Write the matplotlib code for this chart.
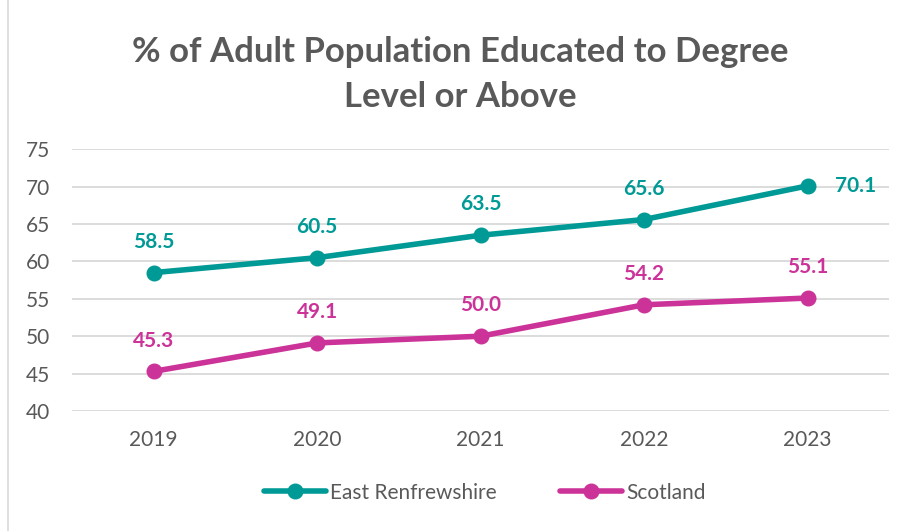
import numpy as np
from matplotlib import pyplot as plt
from matplotlib.patches import Rectangle

years = ['2019', '2020', '2021', '2022', '2023']
east_renfrewshire = [58.5, 60.5, 63.5, 65.6, 70.1]
scotland = [45.3, 49.1, 50.0, 54.2, 55.1]

teal = '#009A96'
pink = '#CC3399'
grey = '#595959'

plt.rcParams['font.family'] = ['Lato', 'DejaVu Sans']

fig = plt.figure(figsize=(9.06, 5.31), dpi=100)
ax = fig.add_axes([0.0795, 0.226, 0.902, 0.493])

x = np.arange(len(years))
ax.plot(x, east_renfrewshire, color=teal, lw=4, marker='o', ms=10.5,
        label='East Renfrewshire', solid_capstyle='round')
ax.plot(x, scotland, color=pink, lw=4, marker='o', ms=10.5,
        label='Scotland', solid_capstyle='round')

for i, v in enumerate(east_renfrewshire):
    if i == len(years) - 1:
        ax.annotate(f'{v:.1f}', (i, v), xytext=(20, 0), textcoords='offset points',
                    ha='left', va='center', color=teal, fontsize=15, fontweight='bold')
    else:
        ax.annotate(f'{v:.1f}', (i, v), xytext=(0, 15), textcoords='offset points',
                    ha='center', va='bottom', color=teal, fontsize=15, fontweight='bold')
for i, v in enumerate(scotland):
    ax.annotate(f'{v:.1f}', (i, v), xytext=(0, 15), textcoords='offset points',
                ha='center', va='bottom', color=pink, fontsize=15, fontweight='bold')

ax.set_xlim(-0.5, len(years) - 0.5)
ax.set_ylim(40, 75)
ax.set_yticks(range(40, 76, 5))
ax.set_xticks(x)
ax.set_xticklabels(years)
ax.tick_params(length=0, labelsize=15, labelcolor=grey)
ax.tick_params(axis='x', pad=14)
ax.tick_params(axis='y', pad=16)
ax.grid(axis='y', color='#D9D9D9', lw=1.3)
ax.set_axisbelow(True)
for s in ax.spines.values():
    s.set_visible(False)

fig.text(0.508, 0.86, '% of Adult Population Educated to Degree\nLevel or Above',
         ha='center', va='center', fontsize=25, fontweight='bold', color=grey,
         linespacing=1.5)

fig.legend(loc='center', bbox_to_anchor=(0.535, 0.072), ncol=2, frameon=False,
           fontsize=15, labelcolor=grey, handlelength=3.0, handletextpad=0.2,
           columnspacing=3.0)

fig.patches.append(Rectangle((0.009, -0.01), 1.0, 1.02, transform=fig.transFigure,
                             fill=False, edgecolor='#D9D9D9', lw=1.2))

fig.savefig('out.png', dpi=100)
